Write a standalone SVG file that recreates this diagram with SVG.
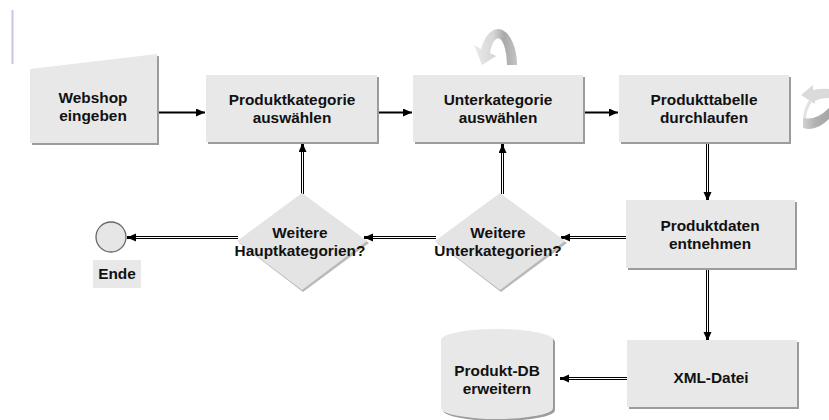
<svg xmlns="http://www.w3.org/2000/svg" width="829" height="420" viewBox="0 0 829 420">
  <style>
    .lbl { font-family: "Liberation Sans", Arial, sans-serif; font-weight: bold; font-size: 15.4px; fill: #111; text-anchor: middle; }
    .box { fill: #e8e8e8; }
    .shadow { fill: #9c9c9c; }
    .wire { fill: none; stroke: #000; stroke-width: 2; }
    .wire2 { fill: none; stroke: #000; stroke-width: 3; }
    .gap { fill: none; stroke: #fff; stroke-width: 1; }
  </style>
  <defs>
    <marker id="head" markerUnits="userSpaceOnUse" markerWidth="10" markerHeight="9" refX="9" refY="4" orient="auto">
      <path d="M0,0 L9,4 L0,8 Z" fill="#000"/>
    </marker>
    <linearGradient id="swirl" x1="0" y1="0" x2="1" y2="0">
      <stop offset="0" stop-color="#ebebeb"/>
      <stop offset="0.45" stop-color="#d6d6d6"/>
      <stop offset="0.7" stop-color="#a9a9a9"/>
      <stop offset="1" stop-color="#c4c4c4"/>
    </linearGradient>
    <linearGradient id="swirl2" x1="0" y1="0" x2="1" y2="0">
      <stop offset="0" stop-color="#d0d0d0"/>
      <stop offset="0.5" stop-color="#b0b0b0"/>
      <stop offset="1" stop-color="#a6a6a6"/>
    </linearGradient>
  </defs>

  <rect width="829" height="420" fill="#fff"/>

  <!-- margin mark -->
  <line x1="12.5" y1="10" x2="12.5" y2="64" stroke="#c6c6e4" stroke-width="2"/>

  <!-- rotation glyphs -->
  <g id="loop-top">
    <path d="M517,65 A19,36 0 0 0 481,49 L474,45 L482,65 L496,56 L490,53 A9,27 0 0 1 507,65 Z" fill="url(#swirl)"/>
  </g>
  <g id="loop-right">
    <path d="M801,95 L813,85 L813,90 Q822,88 829,89 L829,98 Q820,98 815,101 L815,104 Z" fill="#dadada"/>
    <path d="M809,100 Q804,108 803,118 L806,120 Q806,110 812,102 Z" fill="#e2e2e2"/>
    <path d="M803,118 Q816,121 829,108 L829,119 Q816,132 803,128 Z" fill="url(#swirl2)"/>
  </g>

  <!-- connectors -->
  <g id="connectors">
    <line class="wire" x1="157" y1="112.5" x2="205" y2="112.5" marker-end="url(#head)"/>
    <line class="wire" x1="378" y1="112.5" x2="412" y2="112.5" marker-end="url(#head)"/>
    <line class="wire" x1="584" y1="112.5" x2="618" y2="112.5" marker-end="url(#head)"/>

    <line class="wire2" x1="707.5" y1="143" x2="707.5" y2="201" marker-end="url(#head)"/>
    <line class="gap" x1="707.5" y1="143" x2="707.5" y2="192"/>

    <line class="wire2" x1="707.5" y1="268" x2="707.5" y2="341" marker-end="url(#head)"/>
    <line class="gap" x1="707.5" y1="268" x2="707.5" y2="332"/>

    <line class="wire2" x1="627" y1="378.5" x2="560" y2="378.5" marker-end="url(#head)"/>
    <line class="gap" x1="627" y1="378.5" x2="569" y2="378.5"/>

    <line class="wire2" x1="626" y1="237.5" x2="561" y2="237.5" marker-end="url(#head)"/>
    <line class="gap" x1="626" y1="237.5" x2="570" y2="237.5"/>

    <line class="wire2" x1="436" y1="237.5" x2="364" y2="237.5" marker-end="url(#head)"/>
    <line class="gap" x1="436" y1="237.5" x2="373" y2="237.5"/>

    <line class="wire2" x1="238" y1="237.5" x2="127" y2="237.5" marker-end="url(#head)"/>
    <line class="gap" x1="238" y1="237.5" x2="136" y2="237.5"/>

    <line class="wire2" x1="302.5" y1="194" x2="302.5" y2="143" marker-end="url(#head)"/>
    <line class="gap" x1="302.5" y1="194" x2="302.5" y2="152"/>

    <line class="wire2" x1="502.5" y1="194" x2="502.5" y2="144" marker-end="url(#head)"/>
    <line class="gap" x1="502.5" y1="194" x2="502.5" y2="153"/>
  </g>

  <!-- nodes -->
  <g id="webshop">
    <path class="shadow" d="M32,71 L159,56 L159,145 L32,145 Z"/>
    <path class="box" d="M30,69 L157,54 L157,143 L30,143 Z"/>
    <text class="lbl" x="93" y="103">Webshop</text>
    <text class="lbl" x="93" y="121">eingeben</text>
  </g>

  <g id="produktkategorie">
    <rect class="shadow" x="208" y="77" width="171" height="67"/>
    <rect class="box" x="206" y="75" width="171" height="67"/>
    <text class="lbl" x="292" y="105">Produktkategorie</text>
    <text class="lbl" x="292" y="123">auswählen</text>
  </g>

  <g id="unterkategorie">
    <rect class="shadow" x="415" y="77" width="170" height="67"/>
    <rect class="box" x="413" y="75" width="170" height="67"/>
    <text class="lbl" x="498" y="105">Unterkategorie</text>
    <text class="lbl" x="498" y="123">auswählen</text>
  </g>

  <g id="produkttabelle">
    <rect class="shadow" x="621" y="77" width="170" height="67"/>
    <rect class="box" x="619" y="75" width="170" height="67"/>
    <text class="lbl" x="704" y="105">Produkttabelle</text>
    <text class="lbl" x="704" y="123">durchlaufen</text>
  </g>

  <g id="produktdaten">
    <rect class="shadow" x="628" y="202" width="169" height="68"/>
    <rect class="box" x="626" y="200" width="169" height="68"/>
    <text class="lbl" x="710" y="231">Produktdaten</text>
    <text class="lbl" x="710" y="249">entnehmen</text>
  </g>

  <g id="xml-datei">
    <rect class="shadow" x="629" y="342" width="170" height="67"/>
    <rect class="box" x="627" y="340" width="170" height="67"/>
    <text class="lbl" x="711" y="383">XML-Datei</text>
  </g>

  <g id="produkt-db">
    <path class="shadow" d="M443,342 A56,11 0 0 1 555,342 L555,410 A56,11 0 0 1 443,410 Z"/>
    <path class="box" d="M441,340 A56,11 0 0 1 553,340 L553,408 A56,11 0 0 1 441,408 Z"/>
    <text class="lbl" x="497" y="376">Produkt-DB</text>
    <text class="lbl" x="497" y="394">erweitern</text>
  </g>

  <g id="weitere-unterkategorien">
    <path d="M501,195 L567,243 L501,292 L437,243 Z" fill="#b8b8b8"/>
    <path d="M500,193 L565,241 L500,290 L435,241 Z" fill="#e4e4e4"/>
    <text class="lbl" x="498" y="238">Weitere</text>
    <text class="lbl" x="498" y="256">Unterkategorien?</text>
  </g>

  <g id="weitere-hauptkategorien">
    <path d="M303,195 L369,243 L303,292 L239,243 Z" fill="#b8b8b8"/>
    <path d="M302,193 L367,241 L302,290 L237,241 Z" fill="#e4e4e4"/>
    <text class="lbl" x="300" y="238">Weitere</text>
    <text class="lbl" x="300" y="256">Hauptkategorien?</text>
  </g>

  <g id="ende">
    <circle cx="111" cy="237" r="15" fill="#e6e6e6" stroke="#666" stroke-width="1.3"/>
    <rect x="93" y="260" width="48" height="28" fill="#e8e8e8"/>
    <text class="lbl" x="117" y="279">Ende</text>
  </g>
</svg>
